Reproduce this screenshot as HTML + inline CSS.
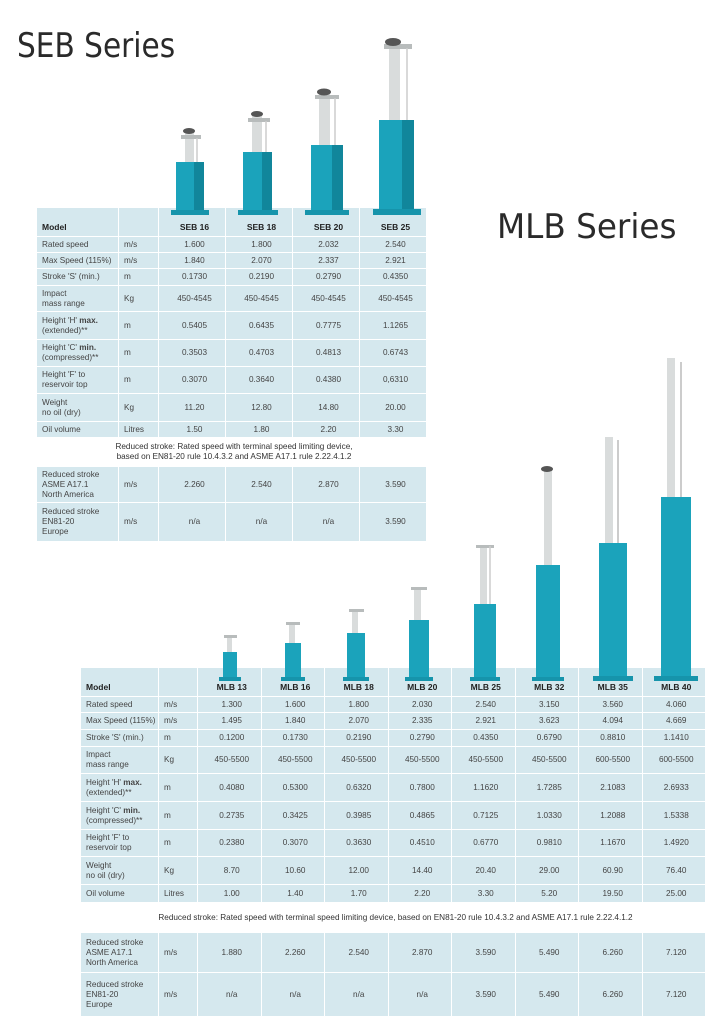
<!DOCTYPE html>
<html><head><meta charset="utf-8"><style>
body{margin:0;width:724px;height:1024px;background:#fff;position:relative;overflow:hidden;font-family:"Liberation Sans",sans-serif;color:#333}
.t{position:absolute;font-size:34px;color:#2a2a2a;font-family:"DejaVu Sans","Liberation Sans",sans-serif;letter-spacing:0}
table{position:absolute;border-collapse:collapse;background:#d5e8ee;font-size:8.2px;color:#444;table-layout:fixed}
td{border:1px solid #fff;padding:0 0 0 5px;line-height:10px;text-align:center}
td.l{text-align:left}
tr.h td{font-weight:bold;font-size:8.5px;color:#222;vertical-align:bottom;padding-bottom:4px}
tr.n td{background:#fff;color:#333}
svg{position:absolute;left:0;top:0}
</style></head><body>
<div class="t" style="left:17px;top:26px;transform:scaleX(0.87);transform-origin:left">SEB Series</div>
<div class="t" style="left:497px;top:207px;transform:scaleX(0.96);transform-origin:left">MLB Series</div>

<table style="left:36px;top:207px;width:391px">
<colgroup><col style="width:82px"><col style="width:40px"><col><col><col><col></colgroup>
<tr class="h" style="height:29px"><td class="l">Model</td><td></td><td>SEB 16</td><td>SEB 18</td><td>SEB 20</td><td>SEB 25</td></tr>
<tr style="height:16px"><td class="l">Rated speed</td><td class="l">m/s</td><td>1.600</td><td>1.800</td><td>2.032</td><td>2.540</td></tr>
<tr style="height:16px"><td class="l">Max Speed (115%)</td><td class="l">m/s</td><td>1.840</td><td>2.070</td><td>2.337</td><td>2.921</td></tr>
<tr style="height:17px"><td class="l">Stroke 'S' (min.)</td><td class="l">m</td><td>0.1730</td><td>0.2190</td><td>0.2790</td><td>0.4350</td></tr>
<tr style="height:26px"><td class="l">Impact<br>mass range</td><td class="l">Kg</td><td>450-4545</td><td>450-4545</td><td>450-4545</td><td>450-4545</td></tr>
<tr style="height:28px"><td class="l">Height 'H' <b>max.</b><br>(extended)**</td><td class="l">m</td><td>0.5405</td><td>0.6435</td><td>0.7775</td><td>1.1265</td></tr>
<tr style="height:27px"><td class="l">Height 'C' <b>min.</b><br>(compressed)**</td><td class="l">m</td><td>0.3503</td><td>0.4703</td><td>0.4813</td><td>0.6743</td></tr>
<tr style="height:27px"><td class="l">Height 'F' to<br>reservoir top</td><td class="l">m</td><td>0.3070</td><td>0.3640</td><td>0.4380</td><td>0,6310</td></tr>
<tr style="height:28px"><td class="l">Weight<br>no oil (dry)</td><td class="l">Kg</td><td>11.20</td><td>12.80</td><td>14.80</td><td>20.00</td></tr>
<tr style="height:16px"><td class="l">Oil volume</td><td class="l">Litres</td><td>1.50</td><td>1.80</td><td>2.20</td><td>3.30</td></tr>
<tr class="n" style="height:29px"><td colspan="6">Reduced stroke: Rated speed with terminal speed limiting device,<br>based on EN81-20 rule 10.4.3.2 and ASME A17.1 rule 2.22.4.1.2</td></tr>
<tr style="height:36px"><td class="l">Reduced stroke<br>ASME A17.1<br>North America</td><td class="l">m/s</td><td>2.260</td><td>2.540</td><td>2.870</td><td>3.590</td></tr>
<tr style="height:39px"><td class="l">Reduced stroke<br>EN81-20<br>Europe</td><td class="l">m/s</td><td>n/a</td><td>n/a</td><td>n/a</td><td>3.590</td></tr>
</table>

<table style="left:80px;top:667px;width:626px">
<colgroup><col style="width:78px"><col style="width:39px"><col><col><col><col><col><col><col><col></colgroup>
<tr class="h" style="height:29px"><td class="l">Model</td><td></td><td>MLB 13</td><td>MLB 16</td><td>MLB 18</td><td>MLB 20</td><td>MLB 25</td><td>MLB 32</td><td>MLB 35</td><td>MLB 40</td></tr>
<tr style="height:16px"><td class="l">Rated speed</td><td class="l">m/s</td><td>1.300</td><td>1.600</td><td>1.800</td><td>2.030</td><td>2.540</td><td>3.150</td><td>3.560</td><td>4.060</td></tr>
<tr style="height:17px"><td class="l">Max Speed (115%)</td><td class="l">m/s</td><td>1.495</td><td>1.840</td><td>2.070</td><td>2.335</td><td>2.921</td><td>3.623</td><td>4.094</td><td>4.669</td></tr>
<tr style="height:17px"><td class="l">Stroke 'S' (min.)</td><td class="l">m</td><td>0.1200</td><td>0.1730</td><td>0.2190</td><td>0.2790</td><td>0.4350</td><td>0.6790</td><td>0.8810</td><td>1.1410</td></tr>
<tr style="height:27px"><td class="l">Impact<br>mass range</td><td class="l">Kg</td><td>450-5500</td><td>450-5500</td><td>450-5500</td><td>450-5500</td><td>450-5500</td><td>450-5500</td><td>600-5500</td><td>600-5500</td></tr>
<tr style="height:28px"><td class="l">Height 'H' <b>max.</b><br>(extended)**</td><td class="l">m</td><td>0.4080</td><td>0.5300</td><td>0.6320</td><td>0.7800</td><td>1.1620</td><td>1.7285</td><td>2.1083</td><td>2.6933</td></tr>
<tr style="height:28px"><td class="l">Height 'C' <b>min.</b><br>(compressed)**</td><td class="l">m</td><td>0.2735</td><td>0.3425</td><td>0.3985</td><td>0.4865</td><td>0.7125</td><td>1.0330</td><td>1.2088</td><td>1.5338</td></tr>
<tr style="height:27px"><td class="l">Height 'F' to<br>reservoir top</td><td class="l">m</td><td>0.2380</td><td>0.3070</td><td>0.3630</td><td>0.4510</td><td>0.6770</td><td>0.9810</td><td>1.1670</td><td>1.4920</td></tr>
<tr style="height:28px"><td class="l">Weight<br>no oil (dry)</td><td class="l">Kg</td><td>8.70</td><td>10.60</td><td>12.00</td><td>14.40</td><td>20.40</td><td>29.00</td><td>60.90</td><td>76.40</td></tr>
<tr style="height:18px"><td class="l">Oil volume</td><td class="l">Litres</td><td>1.00</td><td>1.40</td><td>1.70</td><td>2.20</td><td>3.30</td><td>5.20</td><td>19.50</td><td>25.00</td></tr>
<tr class="n" style="height:30px"><td colspan="10">Reduced stroke: Rated speed with terminal speed limiting device, based on EN81-20 rule 10.4.3.2 and ASME A17.1 rule 2.22.4.1.2</td></tr>
<tr style="height:40px"><td class="l">Reduced stroke<br>ASME A17.1<br>North America</td><td class="l">m/s</td><td>1.880</td><td>2.260</td><td>2.540</td><td>2.870</td><td>3.590</td><td>5.490</td><td>6.260</td><td>7.120</td></tr>
<tr style="height:44px"><td class="l">Reduced stroke<br>EN81-20<br>Europe</td><td class="l">m/s</td><td>n/a</td><td>n/a</td><td>n/a</td><td>n/a</td><td>3.590</td><td>5.490</td><td>6.260</td><td>7.120</td></tr>
</table>

<svg width="724" height="1024">
<g>
<rect x="185" y="130" width="9" height="35" fill="#d9dcdc"/><rect x="181" y="135" width="20" height="4" fill="#b8bcbc"/><ellipse cx="189" cy="131" rx="6" ry="3" fill="#555"/><line x1="197" y1="138" x2="197" y2="165" stroke="#ccc" stroke-width="1.5"/>
<rect x="176" y="162" width="28" height="52" fill="#1ba3bb"/><rect x="194" y="162" width="10" height="52" fill="#11869b"/><rect x="171" y="210" width="38" height="5" fill="#1694ab"/>
<rect x="252" y="113" width="10" height="45" fill="#d9dcdc"/><rect x="248" y="118" width="22" height="4" fill="#b8bcbc"/><ellipse cx="257" cy="114" rx="6" ry="3" fill="#555"/><line x1="266" y1="121" x2="266" y2="158" stroke="#ccc" stroke-width="1.5"/>
<rect x="243" y="152" width="29" height="62" fill="#1ba3bb"/><rect x="262" y="152" width="10" height="62" fill="#11869b"/><rect x="238" y="210" width="40" height="5" fill="#1694ab"/>
<rect x="319" y="90" width="11" height="58" fill="#d9dcdc"/><rect x="315" y="95" width="24" height="4" fill="#b8bcbc"/><ellipse cx="324" cy="92" rx="7" ry="3.5" fill="#555"/><line x1="335" y1="98" x2="335" y2="148" stroke="#ccc" stroke-width="1.5"/>
<rect x="311" y="145" width="32" height="69" fill="#1ba3bb"/><rect x="332" y="145" width="11" height="69" fill="#11869b"/><rect x="305" y="210" width="44" height="5" fill="#1694ab"/>
<rect x="389" y="40" width="11" height="85" fill="#d9dcdc"/><rect x="384" y="44" width="28" height="5" fill="#b8bcbc"/><ellipse cx="393" cy="42" rx="8" ry="4" fill="#555"/><line x1="407" y1="48" x2="407" y2="122" stroke="#ccc" stroke-width="1.5"/>
<rect x="379" y="120" width="35" height="94" fill="#1ba3bb"/><rect x="402" y="120" width="12" height="94" fill="#11869b"/><rect x="373" y="209" width="48" height="6" fill="#1694ab"/>
</g>
<g>
<rect x="227" y="635" width="5" height="20" fill="#d9dcdc"/><rect x="224" y="635" width="13" height="3" fill="#b8bcbc"/><rect x="223" y="652" width="14" height="28" fill="#1ba3bb"/><rect x="219" y="677" width="22" height="4" fill="#1694ab"/>
<rect x="289" y="622" width="6" height="25" fill="#d9dcdc"/><rect x="286" y="622" width="14" height="3" fill="#b8bcbc"/><rect x="285" y="643" width="16" height="37" fill="#1ba3bb"/><rect x="281" y="677" width="24" height="4" fill="#1694ab"/>
<rect x="352" y="609" width="6" height="28" fill="#d9dcdc"/><rect x="349" y="609" width="15" height="3" fill="#b8bcbc"/><rect x="347" y="633" width="18" height="47" fill="#1ba3bb"/><rect x="343" y="677" width="26" height="4" fill="#1694ab"/>
<rect x="414" y="587" width="7" height="37" fill="#d9dcdc"/><rect x="411" y="587" width="16" height="3" fill="#b8bcbc"/><rect x="409" y="620" width="20" height="60" fill="#1ba3bb"/><rect x="405" y="677" width="28" height="4" fill="#1694ab"/>
<rect x="480" y="545" width="7" height="62" fill="#d9dcdc"/><rect x="476" y="545" width="18" height="3" fill="#b8bcbc"/><line x1="490" y1="546" x2="490" y2="604" stroke="#ccc" stroke-width="1.5"/><rect x="474" y="604" width="22" height="76" fill="#1ba3bb"/><rect x="470" y="677" width="30" height="4" fill="#1694ab"/>
<rect x="544" y="470" width="8" height="98" fill="#d9dcdc"/><ellipse cx="547" cy="469" rx="6" ry="3" fill="#555"/><rect x="536" y="565" width="24" height="115" fill="#1ba3bb"/><rect x="532" y="677" width="32" height="4" fill="#1694ab"/>
<rect x="605" y="437" width="8" height="110" fill="#d9dcdc"/><line x1="618" y1="440" x2="618" y2="545" stroke="#ccc" stroke-width="2"/><rect x="599" y="543" width="28" height="137" fill="#1ba3bb"/><rect x="593" y="676" width="40" height="5" fill="#1694ab"/>
<rect x="667" y="358" width="8" height="142" fill="#d9dcdc"/><line x1="681" y1="362" x2="681" y2="498" stroke="#ccc" stroke-width="2"/><rect x="661" y="497" width="30" height="183" fill="#1ba3bb"/><rect x="654" y="676" width="44" height="5" fill="#1694ab"/>
</g>
</svg>
</body></html>
